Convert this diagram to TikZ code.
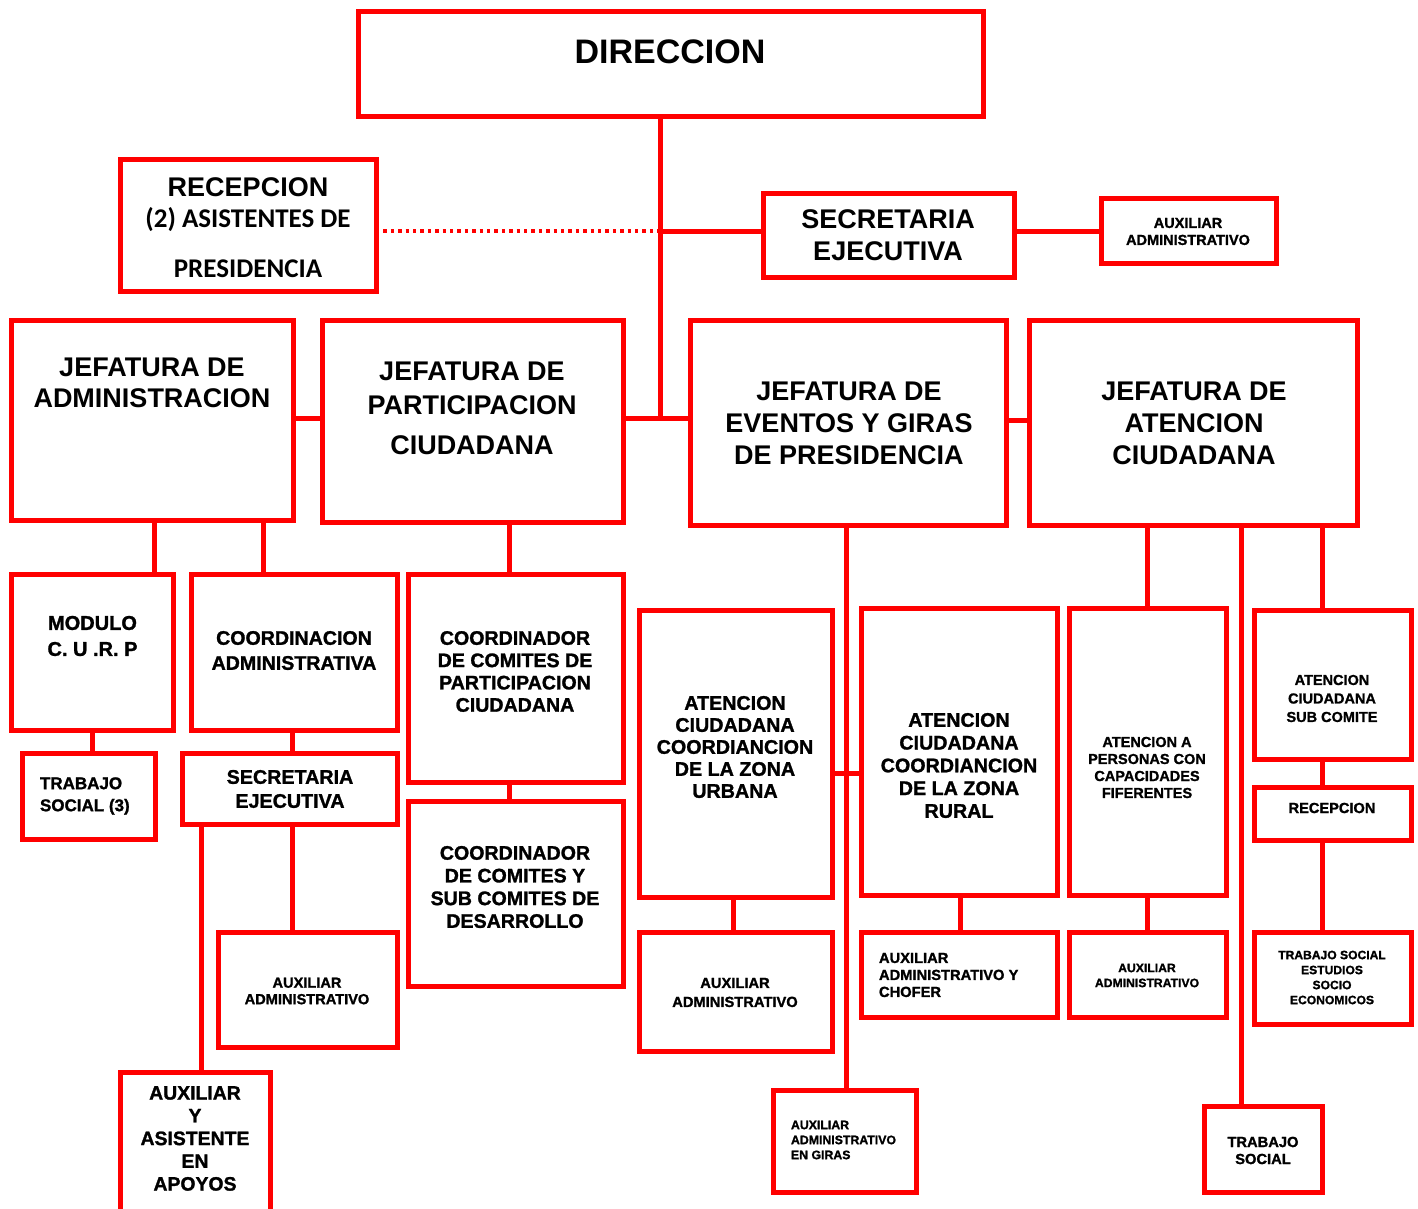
\documentclass[tikz,border=0pt]{standalone}
\usepackage{fontspec}
\setmainfont{Liberation Sans}
\newfontfamily\carl{Carlito}
\newfontfamily\heavy{Liberation Sans Bold}[FakeBold=1.3]
\newcommand\myfs[2]{\fontsize{#1}{#2}\selectfont\bfseries}
\newcommand\myhs[2]{\fontsize{#1}{#2}\heavy\selectfont}
\begin{document}
\begin{tikzpicture}[x=1pt,y=-1pt,
  box/.style={draw=red, line width=5pt, inner sep=0pt, outer sep=0pt, rectangle},
  ln/.style={draw=red, line width=5pt},
  dotln/.style={draw=red, line width=3.4pt, dash pattern=on 3.4pt off 4pt},
  txt/.style={align=center, inner sep=0pt, outer sep=0pt, text=black},
  ltxt/.style={align=left, inner sep=0pt, outer sep=0pt, text=black, anchor=west}]
\clip (0,0) rectangle (1418,1209);
\fill[white] (0,0) rectangle (1418,1209);
% boxes
\node[box, minimum width=625, minimum height=105] (dir) at (670.5,64.5) {};
\node[box, minimum width=256, minimum height=131] (rec) at (248,225.5) {};
\node[box, minimum width=251, minimum height=83] (sec) at (888.5,235.5) {};
\node[box, minimum width=175, minimum height=64] (auxt) at (1188.5,231) {};
\node[box, minimum width=282, minimum height=200] (jadm) at (152,420) {};
\node[box, minimum width=301, minimum height=202] (jpar) at (472.5,421) {};
\node[box, minimum width=316, minimum height=205] (jeve) at (848,422.5) {};
\node[box, minimum width=328, minimum height=205] (jate) at (1193,422.5) {};
\node[box, minimum width=162, minimum height=156] (mod) at (92,652) {};
\node[box, minimum width=206, minimum height=156] (coad) at (294,652) {};
\node[box, minimum width=215, minimum height=208] (ccp) at (515.5,678) {};
\node[box, minimum width=133, minimum height=86] (ts3) at (88.5,796) {};
\node[box, minimum width=215, minimum height=71] (secl) at (289.5,788.5) {};
\node[box, minimum width=215, minimum height=185] (ccd) at (515.5,893.5) {};
\node[box, minimum width=179, minimum height=115] (auxa) at (307.5,989.5) {};
\node[box, minimum width=150, minimum height=148] (auxy) at (195,1146) {};
\node[box, minimum width=193, minimum height=287] (urb) at (735.5,753.5) {};
\node[box, minimum width=196, minimum height=287] (rur) at (959,751.5) {};
\node[box, minimum width=157, minimum height=287] (cap) at (1147.5,751.5) {};
\node[box, minimum width=157, minimum height=149] (sub) at (1332.5,684.5) {};
\node[box, minimum width=157, minimum height=53] (recr) at (1332.5,813.5) {};
\node[box, minimum width=157, minimum height=92] (tse) at (1332.5,978) {};
\node[box, minimum width=193, minimum height=119] (auxu) at (735.5,991.5) {};
\node[box, minimum width=196, minimum height=85] (auxc) at (959,974.5) {};
\node[box, minimum width=157, minimum height=85] (auxp) at (1147.5,974.5) {};
\node[box, minimum width=143, minimum height=102] (auxg) at (844.5,1141) {};
\node[box, minimum width=118, minimum height=86] (tsb) at (1263,1149) {};
% connectors
\draw[ln] (660,0 |- dir.south) -- (660,418);
\draw[ln] (660,231) -- (sec.west |- 0,231);
\draw[dotln] (rec.east |- 0,231) -- (660,231);
\draw[ln] (sec.east |- auxt.west) -- (auxt.west);
\draw[ln] (jadm.east |- 0,418) -- (jpar.west |- 0,418);
\draw[ln] (jpar.east |- 0,418) -- (jeve.west |- 0,418);
\draw[ln] (jeve.east |- 0,420) -- (jate.west |- 0,420);
\draw[ln] (154,0 |- jadm.south) -- (154,0 |- mod.north);
\draw[ln] (263,0 |- jadm.south) -- (263,0 |- coad.north);
\draw[ln] (509,0 |- jpar.south) -- (509,0 |- ccp.north);
\draw[ln] (92,0 |- mod.south) -- (92,0 |- ts3.north);
\draw[ln] (292,0 |- coad.south) -- (292,0 |- secl.north);
\draw[ln] (509,0 |- ccp.south) -- (509,0 |- ccd.north);
\draw[ln] (292,0 |- secl.south) -- (292,0 |- auxa.north);
\draw[ln] (201,0 |- secl.south) -- (201,0 |- auxy.north);
\draw[ln] (846,0 |- jeve.south) -- (846,0 |- auxg.north);
\draw[ln] (urb.east |- 0,773) -- (rur.west |- 0,773);
\draw[ln] (733,0 |- urb.south) -- (733,0 |- auxu.north);
\draw[ln] (960,0 |- rur.south) -- (960,0 |- auxc.north);
\draw[ln] (1147,0 |- cap.south) -- (1147,0 |- auxp.north);
\draw[ln] (1147,0 |- jate.south) -- (1147,0 |- cap.north);
\draw[ln] (1241,0 |- jate.south) -- (1241,0 |- tsb.north);
\draw[ln] (1322,0 |- jate.south) -- (1322,0 |- sub.north);
\draw[ln] (1322,0 |- sub.south) -- (1322,0 |- recr.north);
\draw[ln] (1322,0 |- recr.south) -- (1322,0 |- tse.north);
% texts
\node[txt, font=\myfs{34}{40}] (tdir) at (670,52) {DIRECCION};
\node[txt, font=\myfs{27}{32}] (trec1) at (248,187) {RECEPCION};
\node[txt, font=\myfs{27}{32}\carl] (trec2) at (248,220) {(2) ASISTENTES DE};
\node[txt, font=\myfs{27}{32}\carl] (trec3) at (248,269) {PRESIDENCIA};
\node[txt, font=\myfs{27}{32}] (tsec) at (888,235) {SECRETARIA\\EJECUTIVA};
\node[txt, font=\myhs{14.5}{17}] (tauxt) at (1188,231.5) {AUXILIAR\\ADMINISTRATIVO};
\node[txt, font=\myfs{27}{31}] (tjadm) at (152,382.5) {JEFATURA DE\\ADMINISTRACION};
\node[txt, font=\myfs{27}{34}] (tjpar) at (472,408) {JEFATURA DE\\PARTICIPACION\\[6pt]CIUDADANA};
\node[txt, font=\myfs{27}{32}] (tjeve) at (849,423) {JEFATURA DE\\EVENTOS Y GIRAS\\DE PRESIDENCIA};
\node[txt, font=\myfs{27}{32}] (tjate) at (1194,423) {JEFATURA DE\\ATENCION\\CIUDADANA};
\node[txt, font=\myhs{20}{26}] (tmod) at (92.5,636) {MODULO\\C. U .R. P};
\node[txt, font=\myhs{19.6}{25}] (tcoad) at (294,650.5) {COORDINACION\\ADMINISTRATIVA};
\node[txt, font=\myhs{19.6}{22.3}] (tccp) at (515,671.5) {COORDINADOR\\DE COMITES DE\\PARTICIPACION\\CIUDADANA};
\node[ltxt, font=\myhs{17}{22}] (tts3) at (40,796) {TRABAJO\\SOCIAL (3)};
\node[txt, font=\myhs{19.7}{24}] (tsecl) at (290,789) {SECRETARIA\\EJECUTIVA};
\node[txt, font=\myhs{19.6}{22.7}] (tccd) at (515,887) {COORDINADOR\\DE COMITES Y\\SUB COMITES DE\\DESARROLLO};
\node[txt, font=\myhs{14.6}{16.5}] (tauxa) at (307,991) {AUXILIAR\\ADMINISTRATIVO};
\node[txt, font=\myhs{19.4}{22.75}] (tauxy) at (195,1138.5) {AUXILIAR\\Y\\ASISTENTE\\EN\\APOYOS};
\node[txt, font=\myhs{19.7}{22}] (turb) at (735,747) {ATENCION\\CIUDADANA\\COORDIANCION\\DE LA ZONA\\URBANA};
\node[txt, font=\myhs{19.7}{22.75}] (trur) at (959,765.5) {ATENCION\\CIUDADANA\\COORDIANCION\\DE LA ZONA\\RURAL};
\node[txt, font=\myhs{14.5}{17}] (tcap) at (1147,767.5) {ATENCION A\\PERSONAS CON\\CAPACIDADES\\FIFERENTES};
\node[txt, font=\myhs{14.5}{18.5}] (tsub) at (1332,698.5) {ATENCION\\CIUDADANA\\SUB COMITE};
\node[txt, font=\myhs{14.6}{17}] (trecr) at (1332,808) {RECEPCION};
\node[txt, font=\myhs{12.1}{15}] (ttse) at (1332,977.5) {TRABAJO SOCIAL\\ESTUDIOS\\SOCIO\\ECONOMICOS};
\node[txt, font=\myhs{14.7}{19}] (tauxu) at (735,992.5) {AUXILIAR\\ADMINISTRATIVO};
\node[ltxt, font=\myhs{14.7}{17}] (tauxc) at (879,975) {AUXILIAR\\ADMINISTRATIVO Y\\CHOFER};
\node[txt, font=\myhs{12.2}{15}] (tauxp) at (1147,975.5) {AUXILIAR\\ADMINISTRATIVO};
\node[ltxt, font=\myhs{12.3}{15}] (tauxg) at (791,1140) {AUXILIAR\\ADMINISTRATIVO\\EN GIRAS};
\node[txt, font=\myhs{14.7}{17}] (ttsb) at (1263,1150.5) {TRABAJO\\SOCIAL};
\end{tikzpicture}
\end{document}
